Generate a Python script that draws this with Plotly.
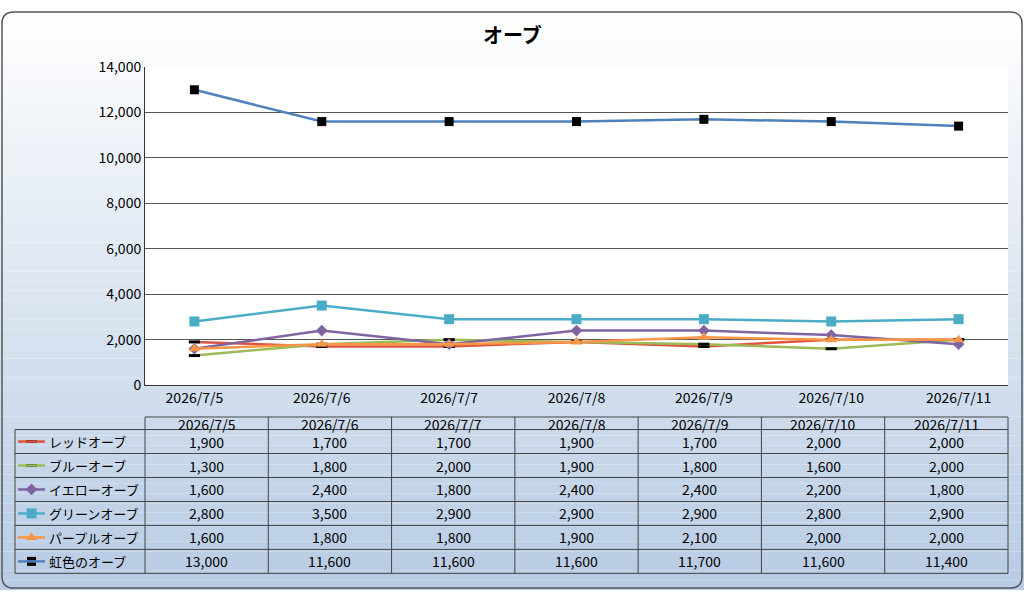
import plotly.graph_objects as go

# ── Data ───────────────────────────────────────────────────────────────────
dates = ["2026/7/5", "2026/7/6", "2026/7/7", "2026/7/8", "2026/7/9", "2026/7/10", "2026/7/11"]
names = ["レッドオーブ", "ブルーオーブ", "イエローオーブ", "グリーンオーブ", "パープルオーブ", "虹色のオーブ"]
red     = [1900, 1700, 1700, 1900, 1700, 2000, 2000]
blue    = [1300, 1800, 2000, 1900, 1800, 1600, 2000]
yellow  = [1600, 2400, 1800, 2400, 2400, 2200, 1800]
green   = [2800, 3500, 2900, 2900, 2900, 2800, 2900]
purple  = [1600, 1800, 1800, 1900, 2100, 2000, 2000]
rainbow = [13000, 11600, 11600, 11600, 11700, 11600, 11400]
series = [red, blue, yellow, green, purple, rainbow]

# ── Styles ─────────────────────────────────────────────────────────────────
W, H = 1024, 599
FONT = "Noto Sans CJK JP"
styles = [
    dict(color="#E0533F", symbol="line-ew", size=8, mcolor="black"),
    dict(color="#9BBB59", symbol="line-ew", size=8, mcolor="black"),
    dict(color="#8064A2", symbol="diamond", size=9, mcolor="#8064A2"),
    dict(color="#4BACC6", symbol="square", size=10, mcolor="#4BACC6"),
    dict(color="#F79646", symbol="triangle-up", size=10, mcolor="#F79646"),
    dict(color="#4F81BD", symbol="square", size=9, mcolor="black"),
]
PX0, PX1, PY0, PY1 = 145, 1008, 58, 387   # plot area in pixels


def mk(st):
    if st["symbol"] == "line-ew":
        return dict(symbol="line-ew", size=st["size"], line=dict(color="black", width=3))
    return dict(symbol=st["symbol"], size=st["size"], color=st["mcolor"])


fig = go.Figure()
for vals, st, nm in zip(series, styles, names):
    fig.add_trace(go.Scatter(x=dates, y=vals, mode="lines+markers", name=nm,
                             line=dict(color=st["color"], width=2.5), marker=mk(st)))

shapes = []
# gradient background
N = 60
for i in range(N):
    t = i / (N - 1)
    r = int(255 + (184 - 255) * t)
    g = int(255 + (204 - 255) * t)
    b = int(255 + (228 - 255) * t)
    shapes.append(dict(type="rect", xref="paper", yref="paper", x0=0, x1=1,
                       y0=1 - (i + 1) / N, y1=1 - i / N, line_width=0,
                       fillcolor=f"rgb({r},{g},{b})", layer="below"))
shapes.append(dict(type="path", xref="x2", yref="y2",
                   path="M 14 1 L 1010 1 Q 1022 1 1022 13 L 1022 585 Q 1022 597 1010 597 "
                        "L 14 597 Q 2 597 2 585 L 2 13 Q 2 1 14 1 Z",
                   line=dict(color="#555", width=1.5), layer="below"))
shapes.append(dict(type="rect", xref="paper", yref="paper", x0=PX0 / W, x1=PX1 / W,
                   y0=1 - PY1 / H, y1=1 - PY0 / H, fillcolor="white", line_width=0, layer="below"))

# table grid (pixel coords on overlay axes)
colw = (PX1 - PX0) / 7
rows = [433 + 24.8 * k for k in range(7)]
lc = dict(color="#444", width=1)
shapes.append(dict(type="line", xref="x2", yref="y2", x0=PX0, x1=PX1, y0=420, y1=420, line=lc))
for y in rows:
    shapes.append(dict(type="line", xref="x2", yref="y2", x0=15, x1=PX1, y0=y, y1=y, line=lc))
shapes.append(dict(type="line", xref="x2", yref="y2", x0=15, x1=15, y0=433, y1=rows[-1], line=lc))
for k in range(8):
    x = PX0 + colw * k
    shapes.append(dict(type="line", xref="x2", yref="y2", x0=x, x1=x, y0=420, y1=rows[-1], line=lc))

ann = [dict(text="<b>オーブ</b>", x=512, y=24, xref="x2", yref="y2", yanchor="middle",
            showarrow=False, font=dict(size=20, color="black", family=FONT))]
for k, d in enumerate(dates):
    ann.append(dict(text=d, x=PX0 + colw * (k + 0.5), y=427, xref="x2", yref="y2",
                    yanchor="middle", showarrow=False,
                    font=dict(size=14, family=FONT, color="black")))
for i, (nm, vals, st) in enumerate(zip(names, series, styles)):
    yc = (rows[i] + rows[i + 1]) / 2
    shapes.append(dict(type="line", xref="x2", yref="y2", x0=18, x1=45, y0=yc, y1=yc,
                       line=dict(color=st["color"], width=2.5)))
    fig.add_trace(go.Scatter(x=[31.5], y=[yc], xaxis="x2", yaxis="y2", mode="markers",
                             marker=mk(st), showlegend=False, hoverinfo="skip"))
    ann.append(dict(text=nm, x=47, y=yc, xref="x2", yref="y2", xanchor="left", yanchor="middle",
                    showarrow=False, font=dict(size=13, family=FONT, color="black")))
    for k, v in enumerate(vals):
        ann.append(dict(text=f"{v:,}", x=PX0 + colw * (k + 0.5), y=yc, xref="x2", yref="y2",
                        yanchor="middle", showarrow=False,
                        font=dict(size=14, family=FONT, color="black")))

fig.update_layout(
    width=W, height=H, margin=dict(l=0, r=0, t=0, b=0),
    paper_bgcolor="white", plot_bgcolor="rgba(0,0,0,0)",
    showlegend=False, shapes=shapes, annotations=ann,
    font=dict(family=FONT, color="black"),
    xaxis=dict(domain=[PX0 / W, PX1 / W], showline=True, linecolor="#333", showgrid=False,
               tickfont=dict(size=14), ticks=""),
    yaxis=dict(domain=[1 - PY1 / H, 1 - PY0 / H], range=[0, 14000], dtick=2000,
               tickformat=",", showline=True, linecolor="#333", gridcolor="#555",
               gridwidth=1, tickfont=dict(size=14), ticks="", zeroline=False),
    xaxis2=dict(domain=[0, 1], range=[0, W], visible=False, anchor="y2"),
    yaxis2=dict(domain=[0, 1], range=[H, 0], visible=False, anchor="x2"),
)
fig.write_html("out.html", config={"displayModeBar": False},
               post_script="document.body.style.margin='0';"
                           "document.body.style.overflow='hidden';")
